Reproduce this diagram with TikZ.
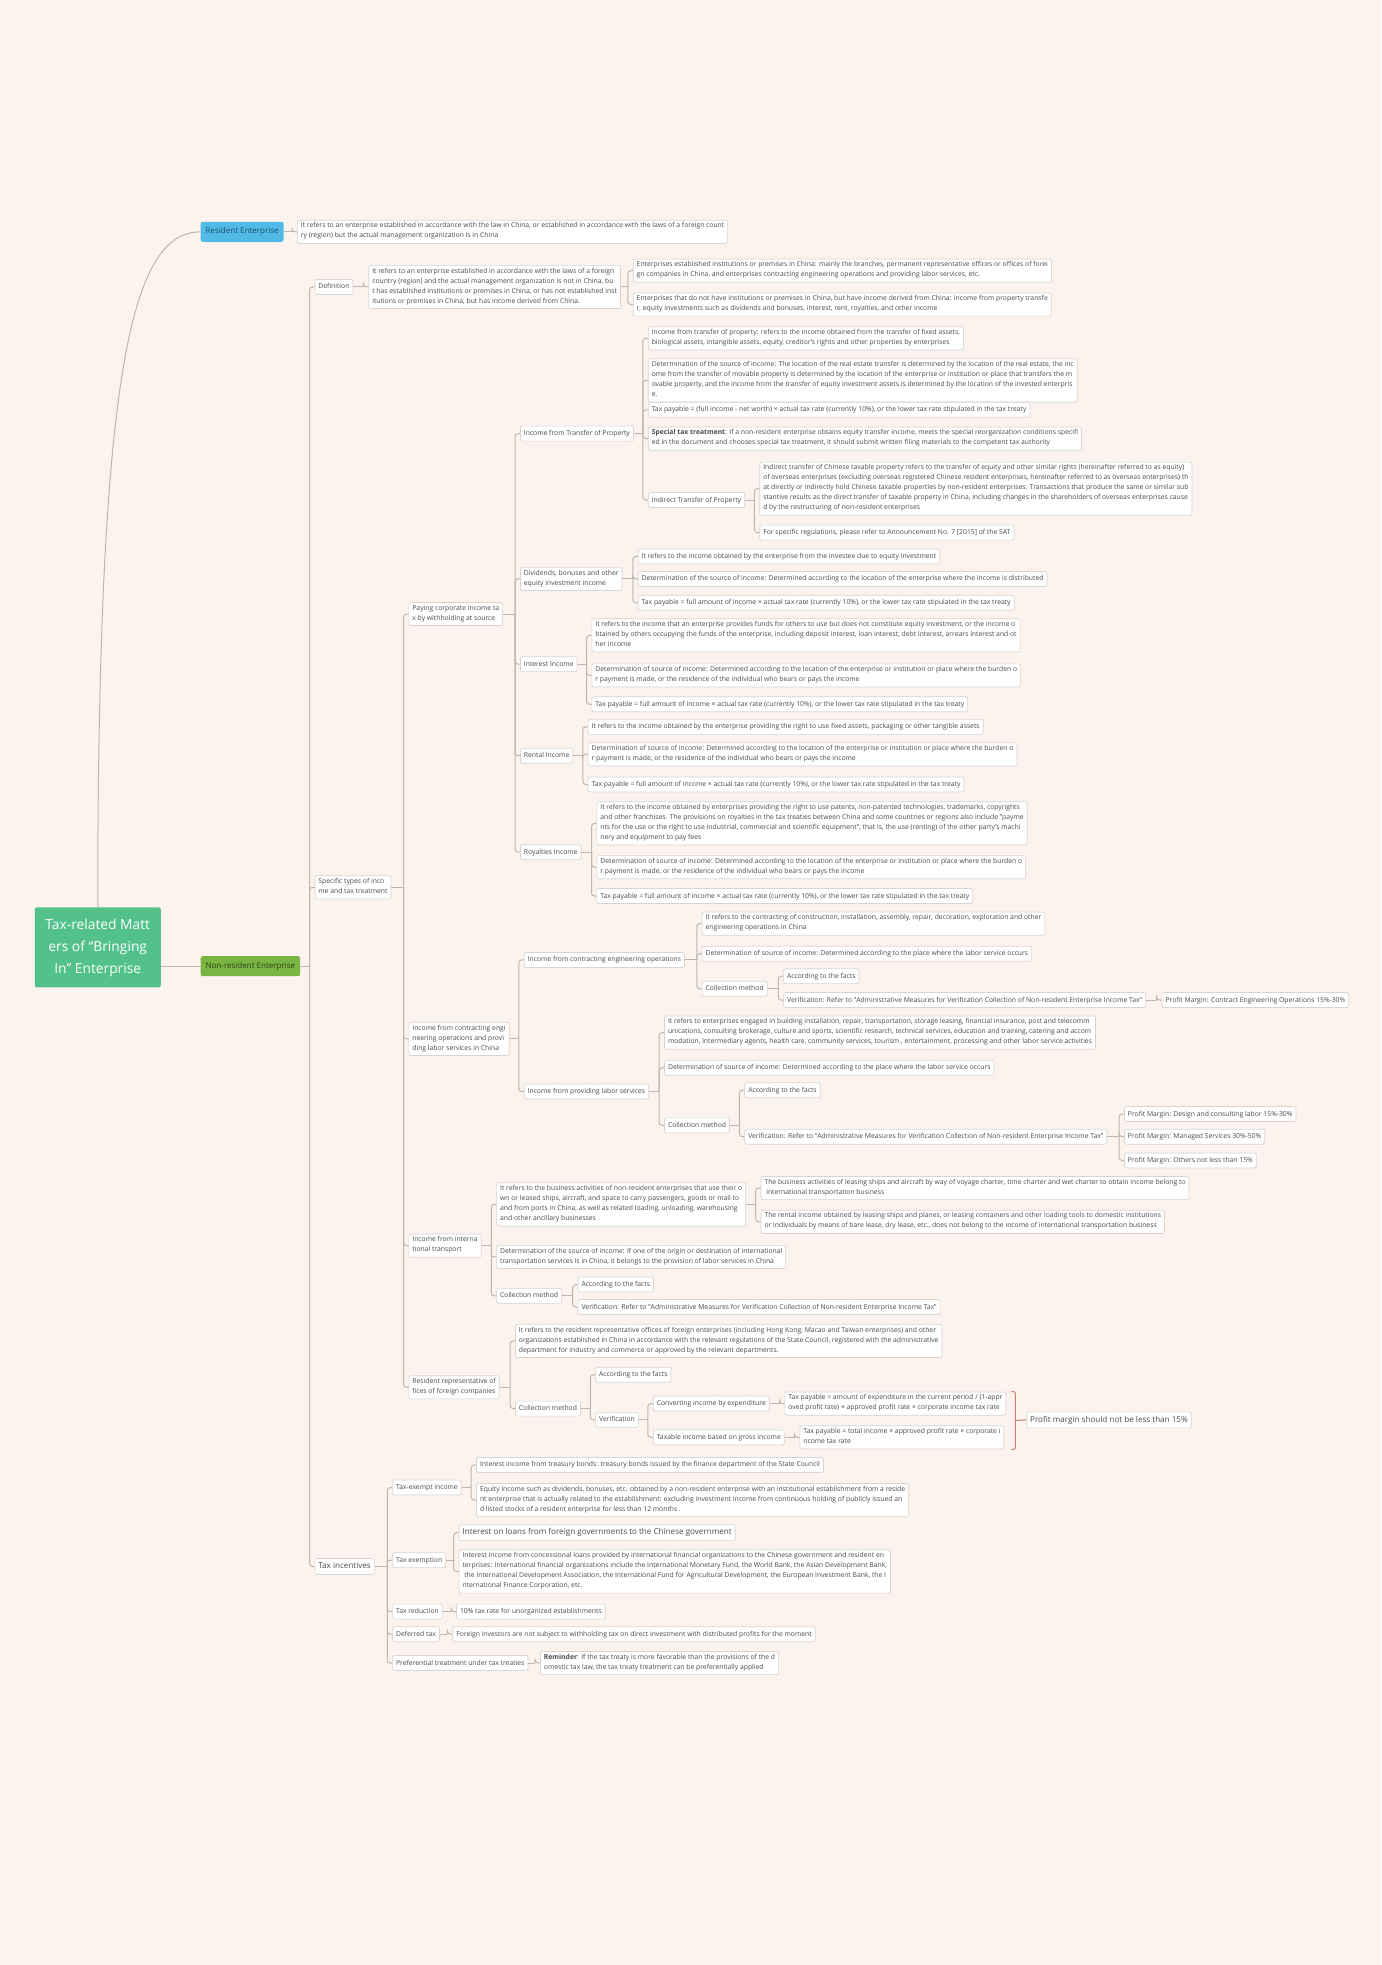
\documentclass[tikz,border=0pt]{standalone}
\usepackage{fontspec}
\setmainfont{Open Sans}
\usetikzlibrary{calc}
\definecolor{bgc}{HTML}{FCF3EE}
\definecolor{boxc}{HTML}{D9D4D0}
\definecolor{linkc}{HTML}{BDB6AF}
\definecolor{txtc}{HTML}{4A4A4A}
\definecolor{rootc}{HTML}{52C18A}
\definecolor{resc}{HTML}{50B9E6}
\definecolor{nrc}{HTML}{7AB543}
\definecolor{brc}{HTML}{C9826E}
\newcommand{\Branch}[2]{
  \foreach \ch [count=\k] in {#2}
  {
    \ifnum\k=1
      \coordinate(tk)at([xshift=-5pt]\ch.west);
      \draw[link](#1.east)--(#1.east-|tk);
    \fi
    \draw[link,rounded corners=3pt](#1.east-|tk)|-(\ch.west);
  }
}
\newcommand{\Verif}{Verification: Refer to "Administrative Measures for Verification Collection of Non-resident Enterprise Income Tax"}
\newcommand{\TaxFull}{Tax payable = full amount of income × actual tax rate (currently 10\%), or the lower tax rate stipulated in the tax treaty}
\newcommand{\SrcBurden}{Determination of source of income: Determined according to the location of the enterprise or institution or place where the burden o\\r payment is made, or the residence of the individual who bears or pays the income}
\begin{document}
\begin{tikzpicture}[x=1.2532pt,y=-1.2532pt,font=\fontsize{6.8}{10}\selectfont,
  box/.style={draw=boxc,fill=white,rounded corners=2pt,line width=0.7pt,text=txtc,inner xsep=3.5pt,inner ysep=2.5pt,align=left,anchor=west,execute at begin node=\strut,execute at end node=\strut},
  big/.style={font=\fontsize{8.1}{11}\selectfont},
  link/.style={draw=linkc,line width=1pt},
  topbox/.style={rounded corners=2pt,inner xsep=5pt,inner ysep=6pt,anchor=west,font=\fontsize{8}{10}\selectfont}]
  \fill[bgc](0,0)rectangle(1102,1568);
  \useasboundingbox(0,0)rectangle(1102,1568);
  % main topics
  \node[rounded corners=2pt,fill=rootc,text=white,align=center,minimum width=126pt,minimum height=80pt,font=\fontsize{13.8}{22}\selectfont](root)at(78,756){Tax-related Matt\\ers of “Bringing\\In” Enterprise};
  \node[topbox,fill=resc,text={rgb,255:red,30;green,80;blue,110}](res)at(160,185){Resident Enterprise};
  \node[topbox,fill=nrc,text={rgb,255:red,45;green,65;blue,25}](nonres)at(160,771){Non-resident Enterprise};
  \draw[link](root.north)..controls+(0,-430)and+(-55,0)..(res.west);
  \draw[link](nonres.west-|root.east)--(nonres.west);
  \node[box](resd)at(237,185){It refers to an enterprise established in accordance with the law in China, or established in accordance with the laws of a foreign count\\ry (region) but the actual management organization is in China};
  % definition
  \node[box](def)at(251,229){Definition};
  \node[box](defd)at(294,229){It refers to an enterprise established in accordance with the laws of a foreign\\country (region) and the actual management organization is not in China, bu\\t has established institutions or premises in China, or has not established inst\\itutions or premises in China, but has income derived from China.};
  \node[box](defa)at(505,216){Enterprises established institutions or premises in China: mainly the branches, permanent representative offices or offices of forei\\gn companies in China, and enterprises contracting engineering operations and providing labor services, etc.};
  \node[box](defb)at(505,243){Enterprises that do not have institutions or premises in China, but have income derived from China: income from property transfe\\r, equity investments such as dividends and bonuses, interest, rent, royalties, and other income};
  % specific types
  \node[box](spec)at(251,708){Specific types of inco\\me and tax treatment};
  \node[box](pay)at(326,490){Paying corporate income ta\\x by withholding at source};
  \node[box](itp)at(415,346){Income from Transfer of Property};
  \node[box](tp1)at(517,270){Income from transfer of property: refers to the income obtained from the transfer of fixed assets,\\biological assets, intangible assets, equity, creditor's rights and other properties by enterprises};
  \node[box](tp2)at(517,303.5){Determination of the source of income: The location of the real estate transfer is determined by the location of the real estate, the inc\\ome from the transfer of movable property is determined by the location of the enterprise or institution or place that transfers the m\\ovable property, and the income from the transfer of equity investment assets is determined by the location of the invested enterpris\\e.};
  \node[box](tp3)at(517,327){Tax payable = (full income - net worth) × actual tax rate (currently 10\%), or the lower tax rate stipulated in the tax treaty};
  \node[box](tp4)at(517,350){\textbf{Special tax treatment}: If a non-resident enterprise obtains equity transfer income, meets the special reorganization conditions specifi\\ed in the document and chooses special tax treatment, it should submit written filing materials to the competent tax authority};
  \node[box](ind)at(517,399){Indirect Transfer of Property};
  \node[box](ind1)at(606,390){Indirect transfer of Chinese taxable property refers to the transfer of equity and other similar rights (hereinafter referred to as equity)\\of overseas enterprises (excluding overseas registered Chinese resident enterprises, hereinafter referred to as overseas enterprises) th\\at directly or indirectly hold Chinese taxable properties by non-resident enterprises. Transactions that produce the same or similar sub\\stantive results as the direct transfer of taxable property in China, including changes in the shareholders of overseas enterprises cause\\d by the restructuring of non-resident enterprises};
  \node[box](ind2)at(606,425){For specific regulations, please refer to Announcement No. 7 [2015] of the SAT};
  \node[box](div)at(415,462){Dividends, bonuses and other\\equity investment income};
  \node[box](d1)at(509,444){It refers to the income obtained by the enterprise from the investee due to equity investment};
  \node[box](d2)at(509,462){Determination of the source of income: Determined according to the location of the enterprise where the income is distributed};
  \node[box](d3)at(509,481){\TaxFull};
  \node[box](int)at(415,530){Interest Income};
  \node[box](i1)at(472,507){It refers to the income that an enterprise provides funds for others to use but does not constitute equity investment, or the income o\\btained by others occupying the funds of the enterprise, including deposit interest, loan interest, debt interest, arrears interest and ot\\her income};
  \node[box](i2)at(472,539){\SrcBurden};
  \node[box](i3)at(472,562){\TaxFull};
  \node[box](ren)at(415,603){Rental Income};
  \node[box](r1)at(469,580){It refers to the income obtained by the enterprise providing the right to use fixed assets, packaging or other tangible assets};
  \node[box](r2)at(469,602){\SrcBurden};
  \node[box](r3)at(469,626){\TaxFull};
  \node[box](roy)at(415,680){Royalties Income};
  \node[box](y1)at(476,657){It refers to the income obtained by enterprises providing the right to use patents, non-patented technologies, trademarks, copyrights\\and other franchises. The provisions on royalties in the tax treaties between China and some countries or regions also include "payme\\nts for the use or the right to use industrial, commercial and scientific equipment", that is, the use (renting) of the other party's machi\\nery and equipment to pay fees};
  \node[box](y2)at(476,692){\SrcBurden};
  \node[box](y3)at(476,715){\TaxFull};
  % contracting and labor services
  \node[box](con)at(326,829){Income from contracting engi\\neering operations and provi\\ding labor services in China};
  \node[box](ceo)at(418,766){Income from contracting engineering operations};
  \node[box](ce1)at(560,737){It refers to the contracting of construction, installation, assembly, repair, decoration, exploration and other\\engineering operations in China};
  \node[box](ce2)at(560,761){Determination of source of income: Determined according to the place where the labor service occurs};
  \node[box](cem)at(560,789){Collection method};
  \node[box](cema)at(625,779){According to the facts};
  \node[box](cemv)at(625,798){\Verif};
  \node[box](cemp)at(927,798){Profit Margin: Contract Engineering Operations 15\%-30\%};
  \node[box](lab)at(418,871){Income from providing labor services};
  \node[box](ls1)at(530,824){It refers to enterprises engaged in building installation, repair, transportation, storage leasing, financial insurance, post and telecomm\\unications, consulting brokerage, culture and sports, scientific research, technical services, education and training, catering and accom\\modation, intermediary agents, health care, community services, tourism , entertainment, processing and other labor service activities};
  \node[box](ls2)at(530,852){Determination of source of income: Determined according to the place where the labor service occurs};
  \node[box](lsm)at(530,898){Collection method};
  \node[box](lsma)at(594,870){According to the facts};
  \node[box](lsmv)at(594,907){\Verif};
  \node[box](pmd)at(897,889){Profit Margin: Design and consulting labor 15\%-30\%};
  \node[box](pmm)at(897,907){Profit Margin: Managed Services 30\%-50\%};
  \node[box](pmo)at(897,926){Profit Margin: Others not less than 15\%};
  % international transport
  \node[box](tra)at(326,994){Income from interna\\tional transport};
  \node[box](tr1)at(396,961){It refers to the business activities of non-resident enterprises that use their o\\wn or leased ships, aircraft, and space to carry passengers, goods or mail to\\and from ports in China, as well as related loading, unloading, warehousing\\and other ancillary businesses};
  \node[box](tr1a)at(607,948){The business activities of leasing ships and aircraft by way of voyage charter, time charter and wet charter to obtain income belong to\\\ international transportation business};
  \node[box](tr1b)at(607,975){The rental income obtained by leasing ships and planes, or leasing containers and other loading tools to domestic institutions\\or individuals by means of bare lease, dry lease, etc., does not belong to the income of international transportation business};
  \node[box](tr2)at(396,1003){Determination of the source of income: If one of the origin or destination of international\\transportation services is in China, it belongs to the provision of labor services in China};
  \node[box](trm)at(396,1034){Collection method};
  \node[box](trma)at(461,1025){According to the facts};
  \node[box](trmv)at(461,1043){\Verif};
  % representative offices
  \node[box](rep)at(326,1107){Resident representative of\\fices of foreign companies};
  \node[box](rp1)at(411,1070){It refers to the resident representative offices of foreign enterprises (including Hong Kong, Macao and Taiwan enterprises) and other\\organizations established in China in accordance with the relevant regulations of the State Council, registered with the administrative\\department for industry and commerce or approved by the relevant departments.};
  \node[box](rpm)at(411,1124){Collection method};
  \node[box](rpma)at(475,1097){According to the facts};
  \node[box](rpmv)at(475,1133){Verification};
  \node[box](cie)at(521,1120){Converting income by expenditure};
  \node[box](cief)at(626,1120){Tax payable = amount of expenditure in the current period / (1-appr\\oved profit rate) × approved profit rate × corporate income tax rate};
  \node[box](tig)at(521,1147){Taxable income based on gross income};
  \node[box](tigf)at(638,1147){Tax payable = total income × approved profit rate × corporate i\\ncome tax rate};
  \node[box,big](pm)at(819,1133){Profit margin should not be less than 15\%};
  \coordinate(bt)at([xshift=5pt]cief.north east);
  \coordinate(bb)at(bt|-tigf.south);
  \draw[brc,line width=1pt,rounded corners=1.5pt](bt)--++(4pt,0)coordinate(bt2)--(bt2|-bb)--(bb);
  \draw[brc,line width=1pt]($(bt2)!0.5!(bt2|-bb)$)--(pm.west);
  % tax incentives
  \node[box,big](inc)at(251,1250){Tax incentives};
  \node[box](tei)at(313,1187){Tax-exempt income};
  \node[box](te1)at(380,1169){Interest income from treasury bonds: treasury bonds issued by the finance department of the State Council};
  \node[box](te2)at(380,1197){Equity income such as dividends, bonuses, etc. obtained by a non-resident enterprise with an institutional establishment from a reside\\nt enterprise that is actually related to the establishment: excluding investment income from continuous holding of publicly issued an\\d listed stocks of a resident enterprise for less than 12 months .};
  \node[box](tex)at(313,1245){Tax exemption};
  \node[box,big](tx1)at(366,1223){Interest on loans from foreign governments to the Chinese government};
  \node[box](tx2)at(366,1254){Interest income from concessional loans provided by international financial organizations to the Chinese government and resident en\\terprises: International financial organizations include the International Monetary Fund, the World Bank, the Asian Development Bank,\\\ the International Development Association, the International Fund for Agricultural Development, the European Investment Bank, the I\\nternational Finance Corporation, etc.};
  \node[box](tre)at(313,1286){Tax reduction};
  \node[box](rd1)at(364,1286){10\% tax rate for unorganized establishments};
  \node[box](det)at(313,1304){Deferred tax};
  \node[box](de1)at(361,1304){Foreign investors are not subject to withholding tax on direct investment with distributed profits for the moment};
  \node[box](pre)at(313,1327){Preferential treatment under tax treaties};
  \node[box](pr1)at(431,1327){\textbf{Reminder}: If the tax treaty is more favorable than the provisions of the d\\omestic tax law, the tax treaty treatment can be preferentially applied};
  % connectors
  \Branch{res}{resd}
  \Branch{nonres}{def,spec,inc}
  \Branch{def}{defd}
  \Branch{defd}{defa,defb}
  \Branch{spec}{pay,con,tra,rep}
  \Branch{pay}{itp,div,int,ren,roy}
  \Branch{itp}{tp1,tp2,tp3,tp4,ind}
  \Branch{ind}{ind1,ind2}
  \Branch{div}{d1,d2,d3}
  \Branch{int}{i1,i2,i3}
  \Branch{ren}{r1,r2,r3}
  \Branch{roy}{y1,y2,y3}
  \Branch{con}{ceo,lab}
  \Branch{ceo}{ce1,ce2,cem}
  \Branch{cem}{cema,cemv}
  \Branch{cemv}{cemp}
  \Branch{lab}{ls1,ls2,lsm}
  \Branch{lsm}{lsma,lsmv}
  \Branch{lsmv}{pmd,pmm,pmo}
  \Branch{tra}{tr1,tr2,trm}
  \Branch{tr1}{tr1a,tr1b}
  \Branch{trm}{trma,trmv}
  \Branch{rep}{rp1,rpm}
  \Branch{rpm}{rpma,rpmv}
  \Branch{rpmv}{cie,tig}
  \Branch{cie}{cief}
  \Branch{tig}{tigf}
  \Branch{inc}{tei,tex,tre,det,pre}
  \Branch{tei}{te1,te2}
  \Branch{tex}{tx1,tx2}
  \Branch{tre}{rd1}
  \Branch{det}{de1}
  \Branch{pre}{pr1}
\end{tikzpicture}
\end{document}
